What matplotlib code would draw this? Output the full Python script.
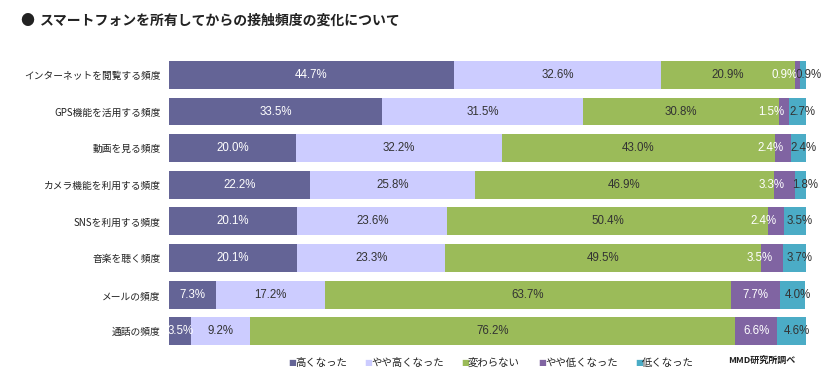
import matplotlib
matplotlib.use("Agg")
import matplotlib.pyplot as plt
import numpy as np

plt.rcParams['font.family'] = ['Noto Sans CJK JP', 'DejaVu Sans']

# data
categories = ['インターネットを閲覧する頻度', 'GPS機能を活用する頻度', '動画を見る頻度',
              'カメラ機能を利用する頻度', 'SNSを利用する頻度', '音楽を聴く頻度',
              'メールの頻度', '通話の頻度']
series_names = ['高くなった', 'やや高くなった', '変わらない', 'やや低くなった', '低くなった']
high = [44.7, 33.5, 20.0, 22.2, 20.1, 20.1, 7.3, 3.5]
slightly_high = [32.6, 31.5, 32.2, 25.8, 23.6, 23.3, 17.2, 9.2]
same = [20.9, 30.8, 43.0, 46.9, 50.4, 49.5, 63.7, 76.2]
slightly_low = [0.9, 1.5, 2.4, 3.3, 2.4, 3.5, 7.7, 6.6]
low = [0.9, 2.7, 2.4, 1.8, 3.5, 3.7, 4.0, 4.6]

series = [high, slightly_high, same, slightly_low, low]
colors = ['#646496', '#CCCCFF', '#9BBB59', '#8064A2', '#4BACC6']
label_colors = ['white', '#333333', '#333333', 'white', '#333333']

fig = plt.figure(figsize=(8.26, 3.85), dpi=100)
ax = fig.add_axes([0.2046, 0.092, 0.7712, 0.761])

y = np.arange(len(categories))
left = np.zeros(len(categories))
for si, (vals, col, lc) in enumerate(zip(series, colors, label_colors)):
    vals = np.array(vals)
    ax.barh(y, vals, left=left, color=col, height=0.76, edgecolor='none')
    for yi, (l, v) in enumerate(zip(left, vals)):
        # nudge the labels of the narrow right-hand segments apart
        shift = 0.0
        if si == 3 and v < 5:
            shift = -2.0
        elif si == 4:
            shift = 0.8
        ax.text(l + v / 2 + shift, yi, f'{v:.1f}%', ha='center', va='center',
                color=lc, fontsize=8.3, family=['Liberation Sans', 'DejaVu Sans'])
    left += vals

ax.set_xlim(0, 100)
ax.set_ylim(len(categories) - 0.5, -0.5)
ax.set_yticks(y)
ax.set_yticklabels(categories, fontsize=7, color='#222222')
ax.tick_params(axis='y', length=0, pad=6)
ax.set_xticks([])
for s in ax.spines.values():
    s.set_visible(False)

# title
fig.text(20 / 826, 1 - 21 / 385, '●', fontsize=10, va='center', ha='left', color='#222222')
fig.text(40 / 826, 1 - 21 / 385, 'スマートフォンを所有してからの接触頻度の変化について',
         fontsize=10, fontweight='bold', va='center', ha='left', color='#222222')

# legend
leg_x = [288, 364, 461, 538, 635]
for xp, name, col in zip(leg_x, series_names, colors):
    fig.text(xp / 826, 1 - 363 / 385, '■', color=col, fontsize=6, va='center', ha='left',
             family=['DejaVu Sans'])
    fig.text((xp + 7) / 826, 1 - 363 / 385, name, fontsize=7.5, va='center', ha='left',
             color='#222222')

fig.text(728 / 826, 1 - 360 / 385, 'MMD研究所調べ', fontsize=6.5, fontweight='bold',
         va='center', ha='left', color='#222222')

fig.savefig('out.png', dpi=100)
